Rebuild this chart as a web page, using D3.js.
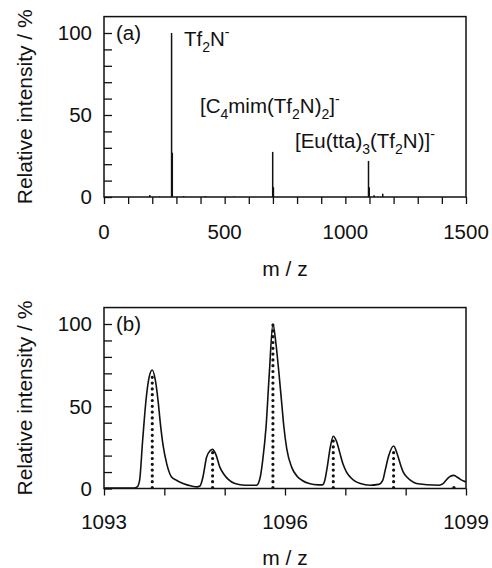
<!DOCTYPE html>
<html>
<head>
<meta charset="utf-8">
<script src="https://cdn.jsdelivr.net/npm/d3@7"></script>
<style>
  html, body { margin: 0; padding: 0; background: #fff; }
  svg { display: block; }
  text { font-family: "Liberation Sans", Arial, sans-serif; fill: #111; }
</style>
</head>
<body>
<svg id="chart" width="492" height="568"></svg>
<script>
// ---- Data ----
// Panel (a): full mass spectrum sticks [m/z, relative intensity]
const spectrumMz   = [190, 230, 280, 283, 330, 420, 540, 699, 702, 1096, 1099, 1119, 1155];
const spectrumInt  = [1.2, 0.4, 100, 27, 0.5, 0.5, 0.3, 27.5, 6, 22, 6, 1, 2];
const panelAXTicks = [0, 500, 1000, 1500];
const yTickLabels  = [0, 50, 100];

// Panel (b): measured isotope profile (curve)
const profileMz = [1093.00, 1093.50, 1093.55, 1093.59, 1093.64, 1093.70, 1093.75, 1093.80, 1093.85, 1093.90,
  1093.93, 1093.98, 1094.04, 1094.12, 1094.20, 1094.31, 1094.45, 1094.54, 1094.59, 1094.64,
  1094.70, 1094.76, 1094.80, 1094.85, 1094.92, 1094.99, 1095.06, 1095.17, 1095.34, 1095.53,
  1095.59, 1095.63, 1095.685, 1095.74, 1095.80, 1095.85, 1095.90, 1095.95, 1095.98, 1096.03,
  1096.11, 1096.20, 1096.28, 1096.40, 1096.55, 1096.62, 1096.66, 1096.70, 1096.75, 1096.80,
  1096.85, 1096.91, 1096.96, 1097.02, 1097.08, 1097.16, 1097.25, 1097.41, 1097.55, 1097.62,
  1097.66, 1097.72, 1097.80, 1097.86, 1097.91, 1097.96, 1098.02, 1098.10, 1098.18, 1098.35,
  1098.55, 1098.62, 1098.68, 1098.74, 1098.80, 1098.87, 1098.96, 1099.00];
const profileInt = [0.3, 0.3, 1, 5, 29, 55, 68, 72, 66, 52,
  41, 26, 15, 7, 5, 3, 1.5, 1, 1.5, 7,
  19, 23, 23.8, 21, 13, 8.5, 5.5, 3, 2, 2,
  7, 17, 37, 70, 100, 88, 70, 50, 38, 24,
  13, 7.5, 5, 3, 2.2, 2.2, 5, 13, 25, 31.8,
  29, 21.5, 15, 10, 7, 4.5, 3, 2, 2.5, 5,
  11, 20, 25.8, 21, 15, 10, 7, 4.5, 3, 2.3,
  2, 3, 5.5, 7.5, 8, 6.5, 4.5, 4];
// Panel (b): calculated isotope pattern (dotted sticks)
const isotopeMz  = [1093.8, 1094.8, 1095.8, 1096.8, 1097.8, 1098.8];
const isotopeInt = [70, 22, 100, 31.5, 24, 4];
const panelBXTicks = [1093, 1096, 1099];

// ---- Layout ----
const svg = d3.select("#chart");
const ink = "#111";
const left = 104, right = 466;

function panel(opts) {
  const g = svg.append("g");
  const x = d3.scaleLinear().domain(opts.xDomain).range([left, right]);
  const y = d3.scaleLinear().domain([0, 100]).range([opts.y0, opts.y100]);
  const yTop = y(110);

  // y ticks (inward, every 10)
  const yAxis = d3.axisRight(y).tickValues(d3.range(0, 110, 10)).tickSize(8).tickFormat("");
  g.append("g").attr("transform", `translate(${left},0)`).call(yAxis)
    .call(s => { s.select(".domain").remove(); s.selectAll("line").attr("stroke", ink).attr("stroke-width", 1.3); });
  // y tick labels
  g.selectAll(".ylab").data(yTickLabels).join("text")
    .attr("x", 92).attr("y", d => y(d)).attr("dy", "0.36em")
    .attr("text-anchor", "end").attr("font-size", 20.5).text(d => d);

  // x ticks (outward)
  const xAxis = d3.axisBottom(x).tickValues(opts.xMinor).tickSize(7).tickFormat("");
  g.append("g").attr("transform", `translate(0,${opts.y0})`).call(xAxis)
    .call(s => { s.select(".domain").remove(); s.selectAll("line").attr("stroke", ink).attr("stroke-width", 1.3); });
  g.selectAll(".xlab").data(opts.xLabels).join("text")
    .attr("x", d => x(d)).attr("y", opts.y0 + opts.xLabOff)
    .attr("text-anchor", "middle").attr("font-size", 20.5).text(d => d);

  // frame
  g.append("rect").attr("x", left).attr("y", yTop).attr("width", right - left).attr("height", opts.y0 - yTop)
    .attr("fill", "none").attr("stroke", ink).attr("stroke-width", 1.5);

  // titles
  g.append("text").attr("x", (left + right) / 2).attr("y", opts.y0 + opts.xTitleOff)
    .attr("text-anchor", "middle").attr("font-size", 21).text("m / z");
  g.append("text").attr("transform", `translate(32,${(yTop + opts.y0) / 2}) rotate(-90)`)
    .attr("text-anchor", "middle").attr("font-size", 21).text("Relative intensity / %");

  // panel letter
  g.append("text").attr("x", 116).attr("y", y(100)).attr("dy", "0.36em").attr("font-size", 20.5).text(opts.letter);
  return { g, x, y };
}

// Panel (a)
const A = panel({ xDomain: [0, 1500], y0: 197, y100: 33, xMinor: d3.range(0, 1501, 100),
  xLabels: panelAXTicks, xLabOff: 42, xTitleOff: 79, letter: "(a)" });
A.g.selectAll(".stick").data(spectrumMz.map((m, i) => [m, spectrumInt[i]])).join("line")
  .attr("x1", d => A.x(d[0])).attr("x2", d => A.x(d[0]))
  .attr("y1", A.y(0)).attr("y2", d => A.y(d[1]))
  .attr("stroke", ink).attr("stroke-width", 1.5);

// annotations with sub/superscripts
function label(g, x, y, parts) {
  const t = g.append("text").attr("x", x).attr("y", y).attr("font-size", 20.5);
  let shift = 0;
  parts.forEach(p => {
    const ts = t.append("tspan").text(p.t);
    let target = 0;
    if (p.sub) { ts.attr("font-size", 14); target = 6; }
    if (p.sup) { ts.attr("font-size", 14); target = -9; }
    ts.attr("dy", target - shift);
    shift = target;
  });
  return t;
}
label(A.g, 184, 46, [{t:"Tf"},{t:"2",sub:1},{t:"N"},{t:"-",sup:1}]);
label(A.g, 200, 113, [{t:"[C"},{t:"4",sub:1},{t:"mim(Tf"},{t:"2",sub:1},{t:"N)"},{t:"2",sub:1},{t:"]"},{t:"-",sup:1}]);
label(A.g, 295, 148, [{t:"[Eu(tta)"},{t:"3",sub:1},{t:"(Tf"},{t:"2",sub:1},{t:"N)]"},{t:"-",sup:1}]);

// Panel (b)
const B = panel({ xDomain: [1093, 1099], y0: 488.5, y100: 324, xMinor: d3.range(1093, 1099.5, 1),
  xLabels: panelBXTicks, xLabOff: 40, xTitleOff: 76, letter: "(b)" });
B.g.selectAll(".dot").data(isotopeMz.map((m, i) => [m, isotopeInt[i]])).join("line")
  .attr("x1", d => B.x(d[0])).attr("x2", d => B.x(d[0]))
  .attr("y1", B.y(0) - 1).attr("y2", d => B.y(d[1]))
  .attr("stroke", ink).attr("stroke-width", 3.2)
  .attr("stroke-linecap", "round").attr("stroke-dasharray", "0 5.8");
const line = d3.line().x(d => B.x(d[0])).y(d => B.y(d[1])).curve(d3.curveMonotoneX);
B.g.append("path").datum(profileMz.map((m, i) => [m, profileInt[i]]))
  .attr("d", line).attr("fill", "none").attr("stroke", ink).attr("stroke-width", 1.6)
  .attr("stroke-linejoin", "round");
</script>
</body>
</html>
